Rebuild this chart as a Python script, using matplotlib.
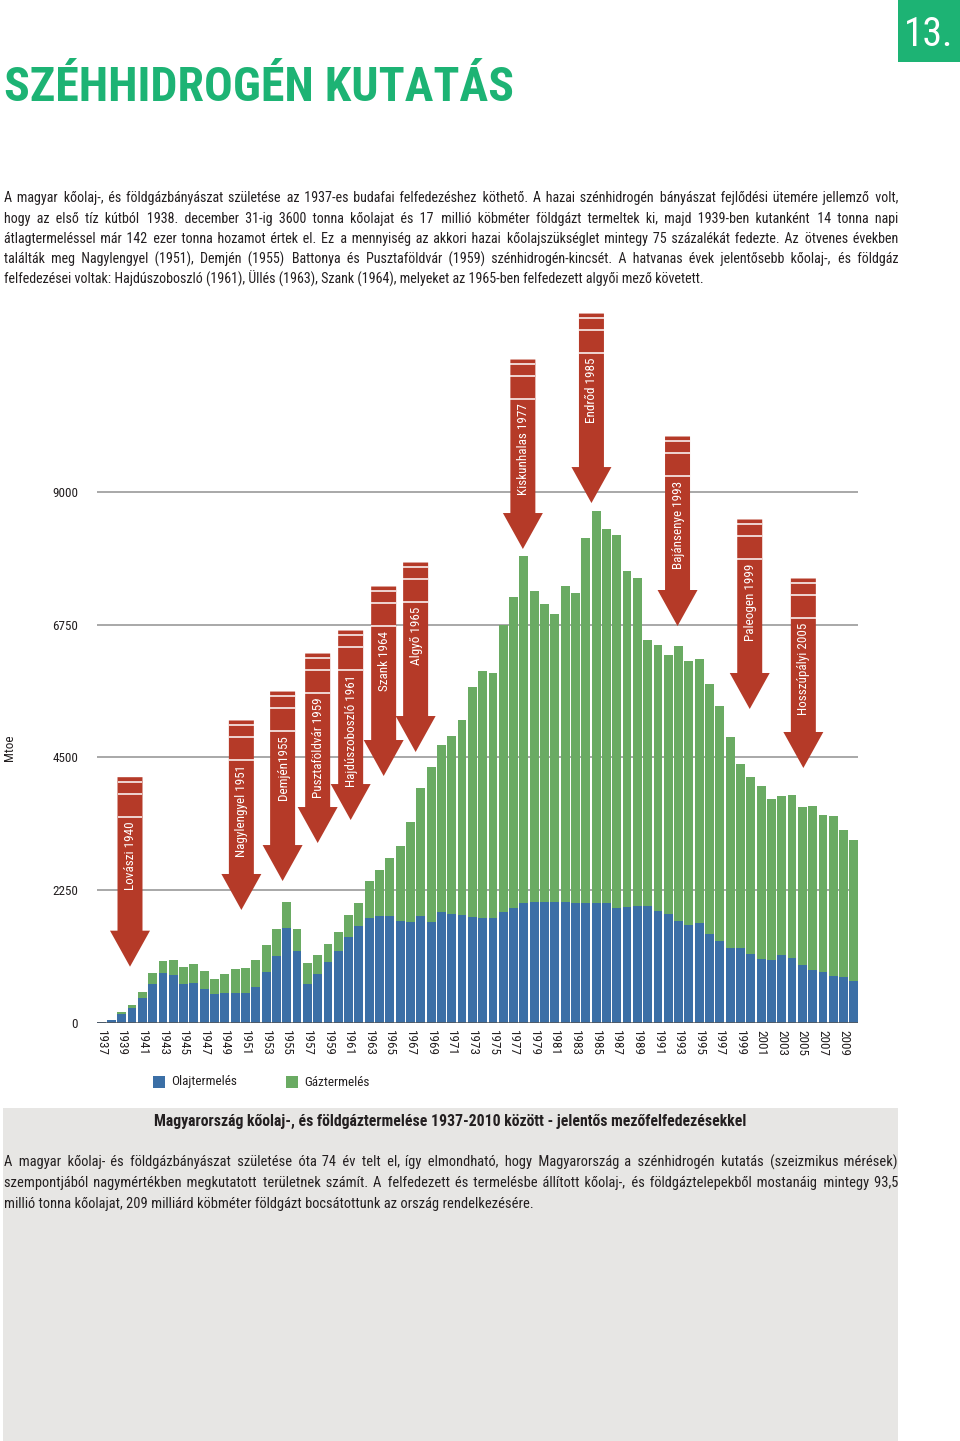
import os
import matplotlib
matplotlib.use("Agg")
import matplotlib.pyplot as plt
from matplotlib.patches import Rectangle, Polygon
from matplotlib.font_manager import FontProperties, fontManager
from matplotlib.ft2font import FT2Font
import numpy as np

# ---------------- data ----------------
years = list(range(1937, 2011))
oil = [5, 40, 143, 245, 410, 661, 838, 809, 655, 667,
       564, 485, 502, 502, 496, 599, 849, 1129, 1607, 1208,
       661, 826, 1032, 1214, 1459, 1642, 1773, 1815, 1815, 1725,
       1706, 1815, 1706, 1875, 1833, 1827, 1791, 1779, 1773, 1875,
       1942, 2020, 2044, 2044, 2044, 2044, 2020, 2020, 2020, 2020,
       1942, 1966, 1984, 1984, 1899, 1833, 1725, 1646, 1682, 1495,
       1381, 1272, 1260, 1158, 1079, 1067, 1152, 1091, 971, 898,
       856, 796, 766, 712]
total = [5, 40, 171, 302, 524, 832, 1049, 1055, 940, 998,
         866, 735, 815, 906, 929, 1066, 1317, 1585, 2046, 1585,
         1015, 1151, 1334, 1539, 1818, 2035, 2406, 2587, 2798, 2997,
         3395, 3986, 4336, 4709, 4854, 5132, 5692, 5964, 5927, 6748,
         7218, 7911, 7314, 7097, 6935, 7411, 7284, 8213, 8671, 8376,
         8273, 7652, 7538, 6488, 6404, 6235, 6392, 6133, 6169, 5747,
         5373, 4848, 4384, 4173, 4010, 3793, 3841, 3853, 3654, 3672,
         3528, 3509, 3274, 3099]
gas = [t - o for t, o in zip(total, oil)]

yticks = [0, 2250, 4500, 6750, 9000]
xtick_years = list(range(1937, 2010, 2))

arrow_labels = ["Lovászi 1940", "Nagylengyel 1951", "Demjén1955", "Pusztaföldvár 1959",
                "Hajdúszoboszló 1961", "Szank 1964", "Algyő 1965", "Kiskunhalas 1977",
                "Endrőd 1985", "Bajánsenye 1993", "Paleogen 1999", "Hosszúpályi 2005"]
arrow_x_year = [1939.8, 1950.6, 1954.6, 1958.0, 1961.2, 1964.4, 1967.5,
                1977.9, 1984.55, 1992.9, 1999.9, 2005.1]
arrow_tip = [947, 1909, 2400, 3045, 3435, 4182, 4589, 8033, 8813, 6727, 5319, 4318]

legend_labels = ["Olajtermelés", "Gáztermelés"]

title = "SZÉHHIDROGÉN KUTATÁS"
page_no = "13."
para1 = [
    "A magyar kőolaj-, és földgázbányászat születése az 1937-es budafai felfedezéshez köthető. A hazai szénhidrogén bányászat fejlődési ütemére jellemző volt,",
    "hogy az első tíz kútból 1938. december 31-ig 3600 tonna kőolajat és 17 millió köbméter földgázt termeltek ki, majd 1939-ben kutanként 14 tonna napi",
    "átlagtermeléssel már 142 ezer tonna hozamot értek el. Ez a mennyiség az akkori hazai kőolajszükséglet mintegy 75 százalékát fedezte. Az ötvenes években",
    "találták meg Nagylengyel (1951), Demjén (1955) Battonya és Pusztaföldvár (1959) szénhidrogén-kincsét. A hatvanas évek jelentősebb kőolaj-, és földgáz",
    "felfedezései voltak: Hajdúszoboszló (1961), Üllés (1963), Szank (1964), melyeket az 1965-ben felfedezett algyői mező követett.",
]
caption = "Magyarország kőolaj-, és földgáztermelése 1937-2010 között - jelentős mezőfelfedezésekkel"
para2 = [
    "A magyar kőolaj- és földgázbányászat születése óta 74 év telt el, így elmondható, hogy Magyarország a szénhidrogén kutatás (szeizmikus mérések)",
    "szempontjából nagymértékben megkutatott területnek számít. A felfedezett és termelésbe állított kőolaj-, és földgáztelepekből mostanáig mintegy 93,5",
    "millió tonna kőolajat, 209 milliárd köbméter földgázt bocsátottunk az ország rendelkezésére.",
]

C_OIL = "#3b6fa6"
C_GAS = "#6aab63"
C_RED = "#b53a28"
C_GREEN = "#1db374"
C_GRID = "#a8a8a8"
C_TEXT = "#231f20"

W, H = 960, 1441
fig = plt.figure(figsize=(W / 100, H / 100), dpi=100)
fig.patch.set_facecolor("white")
renderer = fig.canvas.get_renderer()

ov = fig.add_axes([0, 0, 1, 1])
ov.set_xlim(0, W)
ov.set_ylim(H, 0)
ov.axis("off")
ov.set_zorder(0)


def _measure(s, prop):
    t = ov.text(0, 0, s, fontproperties=prop)
    w = t.get_window_extent(renderer).width
    t.remove()
    return w


# ---------------- font selection: narrow plain sans closest to the reference ----------------
ALLOWED = ("dejavu sans", "liberation sans", "noto sans", "roboto", "open sans", "lato", "inter")
NEEDED = "őűŐŰéáúóöüÉÁ"


def _weight(f):
    w = f.weight
    if isinstance(w, str):
        w = {"normal": 400, "regular": 400, "book": 400, "bold": 700, "light": 300,
             "medium": 500, "semibold": 600, "demibold": 600, "black": 900,
             "heavy": 900, "extra bold": 800, "ultralight": 200}.get(w.lower(), 400)
    return w


def _covers(fname, chars=NEEDED):
    try:
        ft = FT2Font(fname)
        return all(ft.get_char_index(ord(c)) != 0 for c in chars)
    except Exception:
        return False


def pick_fonts():
    groups = {}
    for f in fontManager.ttflist:
        fn = os.path.basename(f.fname).lower()
        nm = f.name.lower()
        if f.style != "normal" or "mono" in fn or "mono" in nm or "cjk" in nm or "cjk" in fn:
            continue
        if not nm.startswith(ALLOWED):
            continue
        if nm.startswith("noto sans") and nm not in ("noto sans", "noto sans condensed",
                                                      "noto sans semicondensed",
                                                      "noto sans extracondensed",
                                                      "noto sans display"):
            continue
        groups.setdefault((f.name, str(f.stretch)), []).append(f)
    best, best_err = None, None
    for k, fl in groups.items():
        regs = [f for f in fl if 350 <= _weight(f) <= 450 and _covers(f.fname)]
        bolds = [f for f in fl if _weight(f) >= 650 and _covers(f.fname)]
        if not regs or not bolds:
            continue
        reg = min(regs, key=lambda f: abs(_weight(f) - 400))
        bold = min(bolds, key=lambda f: abs(_weight(f) - 700))
        try:
            w = _measure("Kiskunhalas 1977", FontProperties(fname=reg.fname, size=11))
        except Exception:
            continue
        err = abs(w - 91)
        if best_err is None or err < best_err:
            best, best_err = (reg.fname, bold.fname), err
    return best


_picked = pick_fonts()
REG, BOLD = _picked if _picked else (None, None)


def fp(size, bold=False):
    if REG is None:
        return FontProperties(family=["Liberation Sans", "DejaVu Sans"], size=size,
                              weight="bold" if bold else "normal")
    return FontProperties(fname=BOLD if bold else REG, size=size)


def fit_size(strings, target, size, bold=False, grow=False, cap=None):
    wmax = max(_measure(s, fp(size, bold)) for s in strings)
    if wmax > target or grow:
        size = size * target / wmax * 0.99
    if cap is not None:
        size = min(size, cap)
    return size


# main chart axes
AX_L, AX_R, AX_B, AX_T = 97, 858, 1022.5, 309.9
ax = fig.add_axes([AX_L / W, 1 - AX_B / H, (AX_R - AX_L) / W, (AX_B - AX_T) / H])
ax.set_zorder(2)
ax.patch.set_alpha(0)
x = np.arange(len(years))
ax.set_xlim(-0.4, len(years) - 0.6)
ax.set_ylim(0, 12090)
for s in ax.spines.values():
    s.set_visible(False)

for yt in yticks[1:]:
    ax.axhline(yt, color=C_GRID, lw=1.4, zorder=0)
ax.axhline(0, color="#555555", lw=1.8, zorder=3)

ax.bar(x, oil, width=0.86, color=C_OIL, zorder=2, linewidth=0)
ax.bar(x, gas, bottom=oil, width=0.86, color=C_GAS, zorder=2, linewidth=0)

ax.set_yticks(yticks)
ax.set_yticklabels([str(v) for v in yticks], color=C_TEXT)
ax.tick_params(axis="y", length=0, pad=13.5)
ax.set_xticks([y - 1937 for y in xtick_years])
ax.set_xticklabels([str(y) for y in xtick_years], rotation=-90, color=C_TEXT)
ax.tick_params(axis="x", length=0, pad=5.5)
lab_size = fit_size(["9000"], 26, 11, grow=True, cap=11.5)
for lbl in ax.get_yticklabels() + ax.get_xticklabels():
    lbl.set_fontproperties(fp(lab_size))

# arrows
xs_per_px = 1 / 10.317
ys_per_px = 16.965
shaft_w = 25 * xs_per_px
head_w = 40 * xs_per_px
head_len = 36 * ys_per_px
arrow_len = 189.5 * ys_per_px
arr_size = fit_size(["Kiskunhalas 1977"], 92, 11, grow=True, cap=11.5)
for lab, yr, tip in zip(arrow_labels, arrow_x_year, arrow_tip):
    cx = yr - 1937
    top = tip + arrow_len
    hb = tip + head_len
    pts = [(cx - shaft_w / 2, top), (cx + shaft_w / 2, top), (cx + shaft_w / 2, hb),
           (cx + head_w / 2, hb), (cx, tip), (cx - head_w / 2, hb), (cx - shaft_w / 2, hb)]
    ax.add_patch(Polygon(pts, closed=True, facecolor=C_RED, edgecolor="none",
                         zorder=4, clip_on=False))
    for off in (4.5, 16.5, 39.5):
        yy = top - off * ys_per_px
        ax.plot([cx - shaft_w / 2, cx + shaft_w / 2], [yy, yy], color="white",
                lw=1.1, zorder=5, clip_on=False, solid_capstyle="butt")
    ax.text(cx + 0.05, top - 44 * ys_per_px, lab, rotation=90, ha="center", va="top",
            color="white", fontproperties=fp(arr_size), zorder=6, clip_on=False)

ov.text(10, 748, "Mtoe", rotation=90, ha="center", va="center", fontproperties=fp(arr_size), color=C_TEXT)

# title and page number
tsize = fit_size([title], 514, 46, bold=True)
ov.text(4, 88, title, ha="left", va="center", fontproperties=fp(tsize, True), color=C_GREEN)
ov.add_patch(Rectangle((898, 0), 62, 62, facecolor=C_GREEN, edgecolor="none"))
psize = fit_size([page_no], 50, 34)
ov.text(929, 34, page_no, ha="center", va="center", fontproperties=fp(psize), color="white")

# legend
leg_size = fit_size([legend_labels[0]], 66, 11, grow=True, cap=11.5)
ov.add_patch(Rectangle((153, 1076), 12, 12, facecolor=C_OIL, edgecolor="none"))
ov.text(171, 1082, legend_labels[0], ha="left", va="center", fontproperties=fp(leg_size), color=C_TEXT)
ov.add_patch(Rectangle((286, 1076), 12, 12, facecolor=C_GAS, edgecolor="none"))
ov.text(304, 1082, legend_labels[1], ha="left", va="center", fontproperties=fp(leg_size), color=C_TEXT)

# gray box + caption
ov.add_patch(Rectangle((3, 1108), 895, 340, facecolor="#e7e6e4", edgecolor="none"))
csize = fit_size([caption], 600, 12.5, bold=True, grow=True, cap=13)
ov.text(450, 1121, caption, ha="center", va="center", fontproperties=fp(csize, True), color=C_TEXT)

# justified paragraphs: each line is ONE text; word gaps widened with thin/hair spaces
FILL = None
if REG is not None:
    for ch in ("\u200a", "\u2009", "\u2006"):
        if _covers(REG, ch):
            FILL = ch
            break


def justified(lines, x0, x1, base0, dy, fs):
    fs = fit_size(lines[:-1], (x1 - x0) * 0.975, fs, grow=True, cap=12.5)
    prop = fp(fs)
    fill_w = _measure("x" + FILL * 10 + "x", prop) - _measure("xx", prop) if FILL else 0
    fill_w = fill_w / 10 if FILL else 0
    for i, line in enumerate(lines):
        y = base0 + i * dy
        if i == len(lines) - 1 or not FILL or fill_w <= 0:
            ov.text(x0, y, line, ha="left", va="baseline", fontproperties=prop, color=C_TEXT)
            continue
        words = line.split(" ")
        extra = (x1 - x0) - _measure(line, prop)
        ngaps = len(words) - 1
        per_gap = extra / ngaps
        out = words[0]
        acc = 0.0
        used = 0
        for j, w in enumerate(words[1:], start=1):
            acc += per_gap
            k = int(round(acc / fill_w)) - used
            k = max(k, 0)
            used += k
            out += " " + FILL * k + w
        ov.text(x0, y, out, ha="left", va="baseline", fontproperties=prop, color=C_TEXT)


justified(para1, 4, 898, 202, 20.5, 11.5)
justified(para2, 4, 898, 1167, 20.5, 11.5)

fig.savefig("out.png", dpi=100, facecolor="white")
